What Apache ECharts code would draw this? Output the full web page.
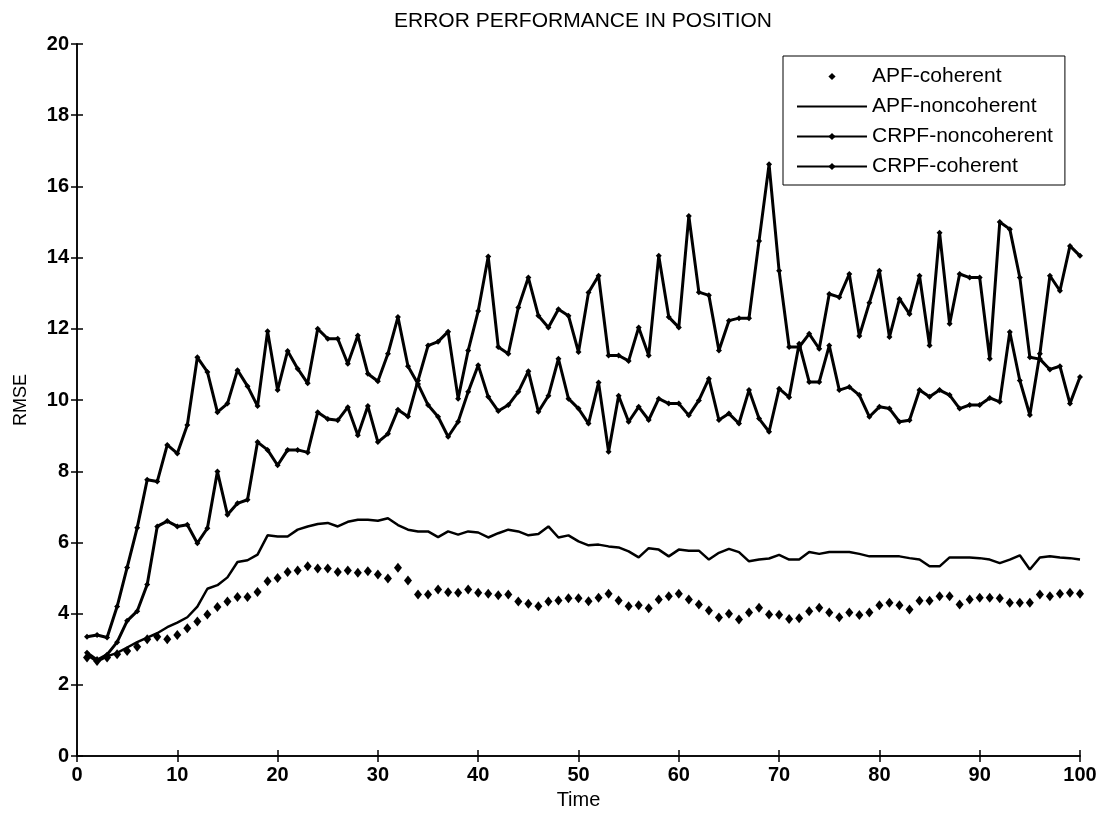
<!DOCTYPE html>
<html>
<head>
<meta charset="utf-8">
<script src="https://cdn.jsdelivr.net/npm/echarts@6/dist/echarts.min.js"></script>
<style>html,body{margin:0;padding:0;background:#fff;}#c{width:1102px;height:815px;}</style>
</head>
<body>
<div id="c"></div>
<script>
var time = [1,2,3,4,5,6,7,8,9,10,11,12,13,14,15,16,17,18,19,20,21,22,23,24,25,26,27,28,29,30,31,32,33,34,35,36,37,38,39,40,41,42,43,44,45,46,47,48,49,50,51,52,53,54,55,56,57,58,59,60,61,62,63,64,65,66,67,68,69,70,71,72,73,74,75,76,77,78,79,80,81,82,83,84,85,86,87,88,89,90,91,92,93,94,95,96,97,98,99,100];

var apfCoherent = [2.77,2.67,2.77,2.86,2.95,3.07,3.28,3.35,3.28,3.4,
3.59,3.78,3.98,4.19,4.34,4.47,4.47,4.61,4.91,5.0,
5.17,5.21,5.33,5.27,5.27,5.17,5.21,5.15,5.19,5.1,
4.99,5.29,4.93,4.54,4.54,4.68,4.6,4.59,4.68,4.59,
4.56,4.52,4.54,4.34,4.28,4.21,4.34,4.37,4.43,4.43,
4.35,4.45,4.56,4.37,4.21,4.24,4.15,4.4,4.49,4.56,
4.4,4.26,4.09,3.89,4.0,3.84,4.03,4.17,3.98,3.97,
3.85,3.87,4.07,4.17,4.03,3.9,4.03,3.96,4.03,4.24,
4.31,4.24,4.12,4.36,4.36,4.49,4.49,4.26,4.4,4.45,
4.45,4.43,4.31,4.31,4.31,4.54,4.49,4.56,4.59,4.56];

var apfNoncoherent = [2.85,2.65,2.8,2.9,3.05,3.2,3.33,3.45,3.62,3.75,
3.9,4.2,4.7,4.8,5.02,5.45,5.5,5.66,6.2,6.17,
6.17,6.36,6.45,6.52,6.55,6.45,6.58,6.64,6.64,6.61,
6.68,6.49,6.36,6.31,6.31,6.15,6.31,6.22,6.31,6.28,
6.14,6.26,6.36,6.31,6.2,6.24,6.45,6.14,6.2,6.03,
5.92,5.94,5.89,5.86,5.75,5.58,5.84,5.8,5.61,5.8,
5.77,5.77,5.52,5.71,5.82,5.73,5.47,5.52,5.55,5.65,
5.52,5.52,5.73,5.68,5.73,5.73,5.73,5.68,5.61,5.61,
5.61,5.61,5.56,5.52,5.33,5.33,5.58,5.58,5.58,5.56,
5.52,5.42,5.52,5.64,5.24,5.58,5.61,5.58,5.56,5.52];

var crpfNoncoherent = [3.35,3.4,3.33,4.2,5.3,6.41,7.76,7.71,8.74,8.5,
9.3,11.2,10.79,9.66,9.9,10.84,10.39,9.83,11.93,10.28,
11.38,10.88,10.47,12.0,11.72,11.72,11.02,11.81,10.74,10.53,
11.3,12.33,10.95,10.45,9.86,9.53,8.97,9.39,10.23,10.98,
10.09,9.69,9.86,10.23,10.81,9.67,10.12,11.16,10.04,9.76,
9.34,10.49,8.55,10.12,9.39,9.81,9.44,10.04,9.9,9.9,
9.57,9.99,10.6,9.44,9.62,9.34,10.28,9.48,9.11,10.32,
10.08,11.58,10.51,10.51,11.53,10.28,10.37,10.14,9.53,9.81,
9.76,9.39,9.43,10.28,10.09,10.28,10.14,9.76,9.86,9.86,
10.06,9.95,11.91,10.55,9.58,11.3,13.49,13.07,14.33,14.05];

var crpfCoherent = [2.9,2.7,2.85,3.2,3.8,4.07,4.82,6.45,6.6,6.45,
6.5,5.98,6.4,7.99,6.78,7.1,7.2,8.82,8.6,8.17,
8.6,8.6,8.53,9.66,9.47,9.43,9.8,9.01,9.83,8.82,
9.05,9.73,9.54,10.55,11.53,11.64,11.92,10.04,11.39,12.5,
14.03,11.49,11.3,12.6,13.44,12.37,12.04,12.55,12.37,11.35,
13.02,13.49,11.25,11.25,11.1,12.04,11.25,14.05,12.33,12.04,
15.17,13.03,12.94,11.39,12.23,12.3,12.3,14.47,16.62,13.63,
11.49,11.49,11.86,11.44,12.98,12.89,13.54,11.8,12.73,13.63,
11.77,12.84,12.42,13.49,11.53,14.7,12.14,13.54,13.44,13.44,
11.16,15.0,14.8,13.44,11.2,11.15,10.86,10.95,9.9,10.65];

var xTicks = [0,10,20,30,40,50,60,70,80,90,100];
var yTicks = [0,2,4,6,8,10,12,14,16,18,20];

function pairs(vals){ return time.map(function(t,i){ return [t, vals[i]]; }); }

var FONT = '"Liberation Sans", Arial, sans-serif';
var chart = echarts.init(document.getElementById('c'));
var axisLine = {show:true, lineStyle:{color:'#000', width:1.5}};
var tick = {show:true, inside:true, length:6, lineStyle:{color:'#000', width:1.5}};

chart.setOption({
  animation:false,
  backgroundColor:'#fff',
  title:{text:'ERROR PERFORMANCE IN POSITION', left:578, textAlign:'center', top:6,
    textStyle:{fontFamily:FONT, fontSize:21, fontWeight:'normal', color:'#000'}},
  grid:{left:77, right:22, top:44, bottom:56, containLabel:false},
  legend:{
    orient:'vertical', left:783, top:56,
    padding:[10,12,8,13],
    itemWidth:70, itemHeight:9, itemGap:9,
    borderColor:'#000', borderWidth:1, backgroundColor:'#fff',
    textStyle:{fontFamily:FONT, fontSize:21, color:'#000'},
    data:[
      {name:'APF-coherent'},
      {name:'APF-noncoherent', itemStyle:{opacity:0}},
      {name:'CRPF-noncoherent'},
      {name:'CRPF-coherent'}
    ]
  },
  xAxis:[
    {type:'value', min:0, max:100, interval:10, position:'bottom',
     axisLine:axisLine, axisTick:tick, splitLine:{show:false},
     axisLabel:{color:'#000', fontFamily:FONT, fontSize:20, fontWeight:'bold', margin:9,
       formatter:function(v){ return xTicks.indexOf(v)>=0 ? String(v) : ''; }},
     name:'Time', nameLocation:'middle', nameGap:33,
     nameTextStyle:{fontFamily:FONT, fontSize:20, color:'#000'}},
    {type:'value', min:0, max:100, interval:10, position:'top',
     axisLine:axisLine, axisTick:tick, splitLine:{show:false}, axisLabel:{show:false}}
  ],
  yAxis:[
    {type:'value', min:0, max:20, interval:2, position:'left',
     axisLine:axisLine, axisTick:tick, splitLine:{show:false},
     axisLabel:{color:'#000', fontFamily:FONT, fontSize:20, fontWeight:'bold', margin:8,
       formatter:function(v){ return yTicks.indexOf(v)>=0 ? String(v) : ''; }},
     name:'RMSE', nameLocation:'middle', nameGap:47, nameRotate:90,
     nameTextStyle:{fontFamily:FONT, fontSize:18, color:'#000'}},
    {type:'value', min:0, max:20, interval:2, position:'right',
     axisLine:axisLine, axisTick:tick, splitLine:{show:false}, axisLabel:{show:false}}
  ],
  series:[
    {name:'APF-coherent', type:'line', data:pairs(apfCoherent),
     symbol:'diamond', symbolSize:[8,10], showSymbol:true,
     lineStyle:{width:0, opacity:0}, itemStyle:{color:'#000'}, z:3},
    {name:'APF-noncoherent', type:'line', data:pairs(apfNoncoherent),
     symbol:'none', lineStyle:{width:2.5, color:'#000'}, itemStyle:{color:'#000'}},
    {name:'CRPF-noncoherent', type:'line', data:pairs(crpfNoncoherent),
     symbol:'diamond', symbolSize:6, lineStyle:{width:3, color:'#000'}, itemStyle:{color:'#000'}},
    {name:'CRPF-coherent', type:'line', data:pairs(crpfCoherent),
     symbol:'diamond', symbolSize:6, lineStyle:{width:3, color:'#000'}, itemStyle:{color:'#000'}}
  ]
});
</script>
</body>
</html>
